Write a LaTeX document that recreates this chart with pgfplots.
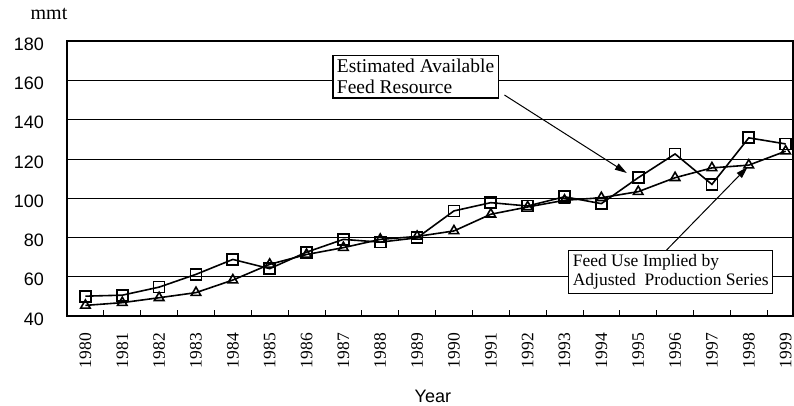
\documentclass[border=0pt]{standalone}
\usepackage{fontspec}
\setmainfont{Liberation Serif}
\newfontfamily\arial{Liberation Sans}
\usepackage{pgfplots}
\pgfplotsset{compat=1.18}
\usetikzlibrary{arrows.meta}
\begin{document}
\begin{tikzpicture}
\useasboundingbox (-67pt,-90pt) rectangle (727pt,316pt);
\begin{axis}[
  at={(0,0)}, anchor=south west,
  scale only axis, width=726pt, height=275pt,
  xmin=-0.5, xmax=19.2, ymin=40, ymax=180,
  axis line style={line width=1.2pt},
  xtick={0,...,19},
  xticklabels={1980,1981,1982,1983,1984,1985,1986,1987,1988,1989,1990,1991,1992,1993,1994,1995,1996,1997,1998,1999},
  minor xtick={0.5,1.5,...,18.5},
  xtick pos=bottom, ytick pos=left,
  major x tick style={draw=none},
  minor x tick style={black, line width=0.8pt},
  minor tick length=6pt,
  ytick={40,60,...,180},
  ytick style={draw=none},
  ymajorgrids, grid style={black, line width=0.7pt},
  /pgf/number format/assume math mode=true,
  yticklabel style={font=\arial\fontsize{18}{20}\selectfont, anchor=east, inner sep=0pt, yshift=-3pt},
  yticklabel shift=23pt,
  xticklabel style={font=\fontsize{17.5}{20}\selectfont, rotate=90, anchor=east, inner sep=0pt},
  xticklabel shift=17pt,
  xlabel={Year},
  xlabel style={font=\arial\fontsize{18}{20}\selectfont, at={(rel axis cs:0.504,0)}, anchor=center, yshift=-80pt},
  ylabel={mmt},
  every axis y label/.style={font=\fontsize{20}{22}\selectfont, at={(rel axis cs:0,1)}, anchor=center, xshift=-18pt, yshift=27pt},
]
\addplot[black, line width=1.6pt, mark=square, mark size=5.5pt, mark options={fill=white, line width=1.7pt}] coordinates {
(0,50.1) (1,50.6) (2,54.7) (3,61.2) (4,68.8) (5,64.1) (6,72.5) (7,79) (8,77.6) (9,79.8)
(10,93.5) (11,97.7) (12,96) (13,100.7) (14,97.2) (15,110.4) (16,122.5) (17,107) (18,130.7) (19,127.6)};
\addplot[black, line width=1.6pt, mark=triangle, mark size=5.5pt, mark options={fill=white, line width=1.6pt}] coordinates {
(0,45.4) (1,46.8) (2,49.3) (3,51.9) (4,58.3) (5,66.3) (6,71.3) (7,74.8) (8,79) (9,80.5)
(10,83.3) (11,91.8) (12,95.5) (13,98.9) (14,100.2) (15,103.3) (16,110.4) (17,115.4) (18,116.8) (19,123.9)};
\draw[line width=1pt, -{Triangle[length=12pt,width=7pt]}] (axis cs:11.37,152.5) -- (axis cs:14.69,112.8);
\draw[line width=1pt, -{Triangle[length=12pt,width=7pt]}] (axis cs:15.77,73.6) -- (axis cs:17.97,115.9);
\node[draw, line width=1.2pt, fill=white, align=left, anchor=north west, inner sep=4pt,
  font=\fontsize{19.5}{21}\selectfont] at (axis cs:6.7,173) {Estimated Available\\Feed Resource};
\node[draw, line width=1.2pt, fill=white, align=left, anchor=north west, inner sep=4pt,
  font=\fontsize{17.5}{19}\selectfont] at (axis cs:13.1,73.6) {Feed Use Implied by\\Adjusted\ \ Production Series};
\end{axis}
\end{tikzpicture}
\end{document}
